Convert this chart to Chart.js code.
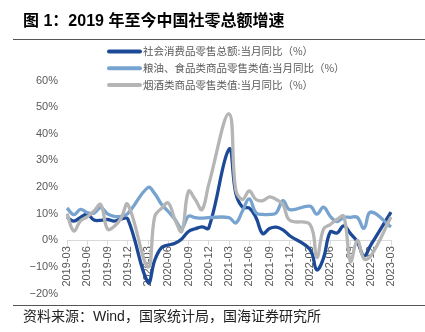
<!DOCTYPE html>
<html>
<head>
<meta charset="utf-8">
<script src="https://cdn.jsdelivr.net/npm/chart.js@4/dist/chart.umd.min.js"></script>
<style>
  html, body { margin: 0; padding: 0; background: #fff; }
  #wrap { position: relative; width: 425px; height: 332px; overflow: hidden; }
  #chart { position: absolute; left: 0; top: 0; }
  .title {
    position: absolute; left: 23px; top: 7px; margin: 0;
    font: bold 16px "Liberation Sans", "Noto Sans CJK SC", sans-serif; color: #000;
    white-space: nowrap;
  }
  .rule { position: absolute; left: 13px; width: 412px; height: 1px; background: #555; }
  .source {
    position: absolute; left: 23px; top: 305px;
    font: 14px "Liberation Sans", "Noto Sans CJK SC", sans-serif; color: #222;
    white-space: nowrap;
  }
</style>
</head>
<body>
<div id="wrap">
  <canvas id="chart" width="425" height="332"></canvas>
  <div class="title">图 1：2019 年至今中国社零总额增速</div>
  <div class="rule" style="top:39px"></div>
  <div class="rule" style="top:305px"></div>
  <div class="source">资料来源：Wind，国家统计局，国海证券研究所</div>
</div>
<script>
// Monthly categories, 2019-03 to 2023-03 (Jan/Feb have no single-month reading)
const months = [
  '2019-03','2019-04','2019-05','2019-06','2019-07','2019-08','2019-09','2019-10','2019-11','2019-12',
  '2020-01','2020-02','2020-03','2020-04','2020-05','2020-06','2020-07','2020-08','2020-09','2020-10','2020-11','2020-12',
  '2021-01','2021-02','2021-03','2021-04','2021-05','2021-06','2021-07','2021-08','2021-09','2021-10','2021-11','2021-12',
  '2022-01','2022-02','2022-03','2022-04','2022-05','2022-06','2022-07','2022-08','2022-09','2022-10','2022-11','2022-12',
  '2023-01','2023-02','2023-03'
];

// 社会消费品零售总额：当月同比（%）
const totalRetail = [
  8.7, 7.2, 8.6, 9.8, 7.6, 7.5, 7.8, 7.2, 8.0, 8.0,
  null, null, -15.8, -7.5, -2.8, -1.8, -1.1, 0.5, 3.3, 4.3, 5.0, 4.6,
  null, null, 34.2, 17.7, 12.4, 12.1, 8.5, 2.5, 4.4, 4.9, 3.9, 1.7,
  null, null, -3.5, -11.1, -6.7, 3.1, 2.7, 5.4, 2.5, -0.5, -5.9, -1.8,
  null, null, 10.6
];

// 粮油、食品类商品零售类值：当月同比（%）
const grainFood = [
  12.1, 9.6, 11.6, 10.4, 10.2, 12.3, 9.9, 9.0, 9.0, 10.0,
  null, null, 19.8, 17.5, 13.5, 10.8, 7.8, 4.5, 9.0, 8.5, 8.3, 8.5,
  null, null, 8.5, 6.5, 11.0, 15.5, 10.3, 9.7, 9.7, 10.3, 14.9, 11.5,
  null, null, 12.8, 9.8, 12.4, 9.0, 7.0, 8.6, 8.6, 8.6, 4.5, 10.6,
  null, null, 5.0
];

// 烟酒类商品零售类值：当月同比（%）
const tobaccoAlcohol = [
  10.0, 3.5, 7.3, 8.8, 11.0, 13.4, 4.2, 5.2, 8.2, 13.5,
  null, null, -10.0, 9.0, 12.0, 14.0, 7.7, 3.3, 18.4, 15.3, 11.5, 21.0,
  null, null, 47.5, 19.0, 15.3, 18.5, 15.3, 14.9, 16.3, 15.3, 13.4, 7.5,
  null, null, 5.9, -6.5, 4.2, 5.9, 7.8, 9.0, -8.0, 0.0, -7.0, -6.0,
  null, null, 8.7
];

const seriesNames = [
  '社会消费品零售总额:当月同比（%）',
  '粮油、食品类商品零售类值:当月同比（%）',
  '烟酒类商品零售类值:当月同比（%）'
];

const textGray = '#595959';

// Legend stacked in three rows at the top of the plot
const stackedLegend = {
  id: 'stackedLegend',
  afterDraw(chart) {
    const ctx = chart.ctx;
    ctx.save();
    ctx.font = '10.5px "Noto Sans CJK SC", sans-serif';
    ctx.textBaseline = 'middle';
    chart.data.datasets.forEach((ds, i) => {
      const y = 51.5 + i * 16.8;
      ctx.strokeStyle = ds.borderColor;
      ctx.lineWidth = 4;
      ctx.lineCap = 'round';
      ctx.beginPath();
      ctx.moveTo(109, y);
      ctx.lineTo(140, y);
      ctx.stroke();
      ctx.fillStyle = textGray;
      ctx.textAlign = 'left';
      ctx.fillText(ds.label, 143, y);
    });
    ctx.restore();
  }
};

const lineStyle = { borderWidth: 3.3, pointRadius: 0, tension: 0.4, spanGaps: true, fill: false };

new Chart(document.getElementById('chart'), {
  type: 'line',
  data: {
    labels: months,
    datasets: [
      { label: seriesNames[0], data: totalRetail, borderColor: '#1c4a97', order: 2, ...lineStyle },
      { label: seriesNames[1], data: grainFood, borderColor: '#76a3cf', order: 1, ...lineStyle },
      { label: seriesNames[2], data: tobaccoAlcohol, borderColor: '#b5b5b5', order: 0, ...lineStyle }
    ]
  },
  options: {
    responsive: false,
    animation: false,
    layout: { padding: { top: 80.5, bottom: 38.5, left: 0, right: 34 } },
    plugins: { legend: { display: false }, tooltip: { enabled: false } },
    scales: {
      x: {
        type: 'category',
        offset: false,
        position: { y: 0 },
        border: { display: true, color: '#d9d9d9', width: 1 },
        grid: {
          display: true,
          drawOnChartArea: false,
          tickLength: 4,
          color: (c) => (c.index % 3 === 0 ? '#d9d9d9' : 'rgba(0,0,0,0)')
        },
        ticks: {
          autoSkip: false,
          maxRotation: 90,
          minRotation: 90,
          padding: 2,
          color: textGray,
          font: { family: '"Liberation Sans", Arial, sans-serif', size: 11 },
          callback: function (v, i) { return i % 3 === 0 ? this.getLabelForValue(v) : ''; }
        }
      },
      y: {
        min: -20,
        max: 60,
        afterFit: (s) => { s.width = 67; },
        border: { display: false },
        grid: { display: false, drawTicks: false },
        ticks: {
          stepSize: 10,
          padding: 9,
          color: textGray,
          font: { family: '"Liberation Sans", Arial, sans-serif', size: 11 },
          callback: (v) => (v < 0 ? '\u2212' + Math.abs(v) : v) + '%'
        }
      }
    }
  },
  plugins: [stackedLegend]
});
</script>
</body>
</html>
